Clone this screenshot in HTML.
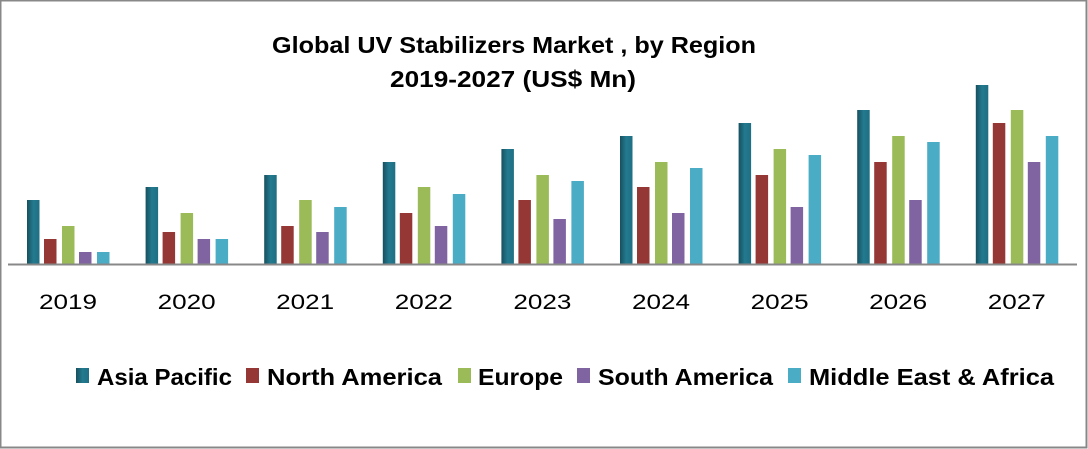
<!DOCTYPE html>
<html><head><meta charset="utf-8"><style>
body{margin:0;background:#fff}
svg{display:block}
text{font-family:"Liberation Sans",sans-serif}
</style></head><body>
<svg width="1088" height="449" xmlns="http://www.w3.org/2000/svg">
<defs>
<linearGradient id="ap" x1="0" x2="1"><stop offset="0" stop-color="#17505f"/><stop offset="0.5" stop-color="#237a8f"/><stop offset="1" stop-color="#1f6f83"/></linearGradient>
</defs>
<rect x="0.5" y="0.5" width="1086" height="447" fill="#fff" stroke="#888" stroke-width="2"/>
<text x="272" y="53" textLength="484" lengthAdjust="spacingAndGlyphs" font-size="23" font-weight="bold" fill="#000">Global UV Stabilizers Market , by Region</text>
<text x="390" y="87" textLength="246" lengthAdjust="spacingAndGlyphs" font-size="23" font-weight="bold" fill="#000">2019-2027 (US$ Mn)</text>
<g>
<rect x="27" y="200" width="12.5" height="64" fill="url(#ap)"/><rect x="44" y="239" width="12.5" height="25" fill="#953735"/><rect x="62" y="226" width="12.5" height="38" fill="#9bbb59"/><rect x="79" y="252" width="12.5" height="12" fill="#8064a2"/><rect x="97" y="252" width="12.5" height="12" fill="#4bacc6"/>
<rect x="145.6" y="187" width="12.5" height="77" fill="url(#ap)"/><rect x="162.6" y="232" width="12.5" height="32" fill="#953735"/><rect x="180.6" y="213" width="12.5" height="51" fill="#9bbb59"/><rect x="197.6" y="239" width="12.5" height="25" fill="#8064a2"/><rect x="215.6" y="239" width="12.5" height="25" fill="#4bacc6"/>
<rect x="264.2" y="175" width="12.5" height="89" fill="url(#ap)"/><rect x="281.2" y="226" width="12.5" height="38" fill="#953735"/><rect x="299.2" y="200" width="12.5" height="64" fill="#9bbb59"/><rect x="316.2" y="232" width="12.5" height="32" fill="#8064a2"/><rect x="334.2" y="207" width="12.5" height="57" fill="#4bacc6"/>
<rect x="382.8" y="162" width="12.5" height="102" fill="url(#ap)"/><rect x="399.8" y="213" width="12.5" height="51" fill="#953735"/><rect x="417.8" y="187" width="12.5" height="77" fill="#9bbb59"/><rect x="434.8" y="226" width="12.5" height="38" fill="#8064a2"/><rect x="452.8" y="194" width="12.5" height="70" fill="#4bacc6"/>
<rect x="501.4" y="149" width="12.5" height="115" fill="url(#ap)"/><rect x="518.4" y="200" width="12.5" height="64" fill="#953735"/><rect x="536.4" y="175" width="12.5" height="89" fill="#9bbb59"/><rect x="553.4" y="219" width="12.5" height="45" fill="#8064a2"/><rect x="571.4" y="181" width="12.5" height="83" fill="#4bacc6"/>
<rect x="620" y="136" width="12.5" height="128" fill="url(#ap)"/><rect x="637" y="187" width="12.5" height="77" fill="#953735"/><rect x="655" y="162" width="12.5" height="102" fill="#9bbb59"/><rect x="672" y="213" width="12.5" height="51" fill="#8064a2"/><rect x="690" y="168" width="12.5" height="96" fill="#4bacc6"/>
<rect x="738.6" y="123" width="12.5" height="141" fill="url(#ap)"/><rect x="755.6" y="175" width="12.5" height="89" fill="#953735"/><rect x="773.6" y="149" width="12.5" height="115" fill="#9bbb59"/><rect x="790.6" y="207" width="12.5" height="57" fill="#8064a2"/><rect x="808.6" y="155" width="12.5" height="109" fill="#4bacc6"/>
<rect x="857.2" y="110" width="12.5" height="154" fill="url(#ap)"/><rect x="874.2" y="162" width="12.5" height="102" fill="#953735"/><rect x="892.2" y="136" width="12.5" height="128" fill="#9bbb59"/><rect x="909.2" y="200" width="12.5" height="64" fill="#8064a2"/><rect x="927.2" y="142" width="12.5" height="122" fill="#4bacc6"/>
<rect x="975.8" y="85" width="12.5" height="179" fill="url(#ap)"/><rect x="992.8" y="123" width="12.5" height="141" fill="#953735"/><rect x="1010.8" y="110" width="12.5" height="154" fill="#9bbb59"/><rect x="1027.8" y="162" width="12.5" height="102" fill="#8064a2"/><rect x="1045.8" y="136" width="12.5" height="128" fill="#4bacc6"/>
</g>
<line x1="8" y1="264.5" x2="1077" y2="264.5" stroke="#888" stroke-width="2"/>
<g font-size="21" fill="#000">
<text x="39" y="309" textLength="58" lengthAdjust="spacingAndGlyphs">2019</text>
<text x="157.6" y="309" textLength="58" lengthAdjust="spacingAndGlyphs">2020</text>
<text x="276.2" y="309" textLength="58" lengthAdjust="spacingAndGlyphs">2021</text>
<text x="394.8" y="309" textLength="58" lengthAdjust="spacingAndGlyphs">2022</text>
<text x="513.4" y="309" textLength="58" lengthAdjust="spacingAndGlyphs">2023</text>
<text x="632" y="309" textLength="58" lengthAdjust="spacingAndGlyphs">2024</text>
<text x="750.6" y="309" textLength="58" lengthAdjust="spacingAndGlyphs">2025</text>
<text x="869.2" y="309" textLength="58" lengthAdjust="spacingAndGlyphs">2026</text>
<text x="987.8" y="309" textLength="58" lengthAdjust="spacingAndGlyphs">2027</text>
</g>
<g font-size="23" font-weight="bold" fill="#000">
<rect x="76" y="368" width="13" height="15" fill="url(#ap)"/><text x="97" y="385" textLength="135" lengthAdjust="spacingAndGlyphs">Asia Pacific</text>
<rect x="246" y="368" width="13" height="15" fill="#953735"/><text x="267" y="385" textLength="175" lengthAdjust="spacingAndGlyphs">North America</text>
<rect x="458" y="368" width="13" height="15" fill="#9bbb59"/><text x="478" y="385" textLength="85" lengthAdjust="spacingAndGlyphs">Europe</text>
<rect x="577" y="368" width="13" height="15" fill="#8064a2"/><text x="598" y="385" textLength="175" lengthAdjust="spacingAndGlyphs">South America</text>
<rect x="788" y="368" width="13" height="15" fill="#4bacc6"/><text x="809" y="385" textLength="245" lengthAdjust="spacingAndGlyphs">Middle East &amp; Africa</text>
</g>
</svg>
</body></html>
